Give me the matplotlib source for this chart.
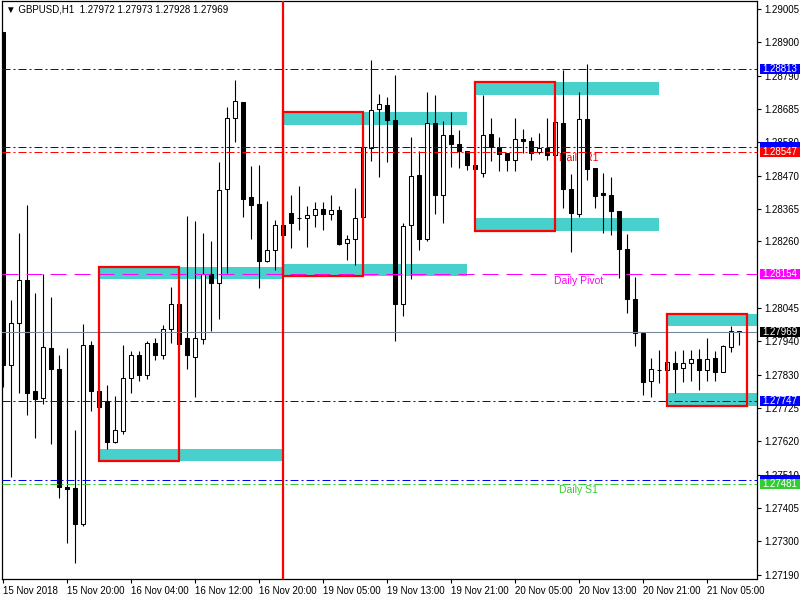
import matplotlib
matplotlib.use("Agg")
import matplotlib.pyplot as plt
from matplotlib.patches import Rectangle
from matplotlib.transforms import blended_transform_factory

plt.rcParams["font.family"] = ["Liberation Sans", "DejaVu Sans"]

# GBPUSD H1 candles (bar index 0..92)
opens = [1.28930, 1.27862, 1.27998, 1.28137, 1.27781, 1.27758, 1.27919, 1.27850, 1.27473, 1.27469,
         1.27355, 1.27926, 1.27779, 1.27747, 1.27617, 1.27652, 1.27823, 1.27894, 1.27832, 1.27935,
         1.27897, 1.27980, 1.28060, 1.27949, 1.27889, 1.27947, 1.28154, 1.28128, 1.28427, 1.28657,
         1.28706, 1.28403, 1.28379, 1.28196, 1.28231, 1.28314, 1.28350, 1.28335, 1.28335, 1.28344,
         1.28365, 1.28347, 1.28361, 1.28255, 1.28267, 1.28338, 1.28558, 1.28685, 1.28697, 1.28649,
         1.28060, 1.28314, 1.28474, 1.28267, 1.28640, 1.28409, 1.28601, 1.28572, 1.28551, 1.28505,
         1.28480, 1.28604, 1.28563, 1.28545, 1.28521, 1.28588, 1.28582, 1.28546, 1.28560, 1.28537,
         1.28640, 1.28429, 1.28347, 1.28653, 1.28495, 1.28415, 1.28410, 1.28357, 1.28236, 1.28074,
         1.27967, 1.27812, 1.27848, 1.27847, 1.27869, 1.27853, 1.27869, 1.27882, 1.27847, 1.27885,
         1.27842, 1.27922, 1.27972]
highs = [1.28930, 1.28073, 1.28286, 1.28377, 1.28093, 1.28155, 1.28083, 1.27894, 1.27917, 1.27655,
         1.27996, 1.27939, 1.27779, 1.27799, 1.27763, 1.27929, 1.27909, 1.27909, 1.27939, 1.27949,
         1.27992, 1.28115, 1.28060, 1.28341, 1.28326, 1.28286, 1.28262, 1.28513, 1.28691, 1.28776,
         1.28706, 1.28502, 1.28505, 1.28389, 1.28327, 1.28314, 1.28410, 1.28438, 1.28374, 1.28385,
         1.28385, 1.28410, 1.28374, 1.28280, 1.28432, 1.28565, 1.28842, 1.28734, 1.28724, 1.28794,
         1.28318, 1.28596, 1.28549, 1.28740, 1.28730, 1.28647, 1.28675, 1.28616, 1.28551, 1.28505,
         1.28730, 1.28656, 1.28596, 1.28545, 1.28655, 1.28620, 1.28596, 1.28608, 1.28655, 1.28655,
         1.28811, 1.28477, 1.28738, 1.28829, 1.28495, 1.28480, 1.28466, 1.28357, 1.28284, 1.28147,
         1.27967, 1.27885, 1.27912, 1.27875, 1.27908, 1.27912, 1.27912, 1.27915, 1.27949, 1.27908,
         1.27928, 1.27989, 1.27973]
lows = [1.27793, 1.27504, 1.27773, 1.27702, 1.27629, 1.27737, 1.27610, 1.27438, 1.27293, 1.27228,
        1.27347, 1.27716, 1.27729, 1.27595, 1.27613, 1.27643, 1.27773, 1.27811, 1.27817, 1.27880,
        1.27883, 1.27933, 1.27930, 1.27852, 1.27761, 1.27930, 1.27971, 1.28010, 1.28160, 1.28580,
        1.28339, 1.28268, 1.28110, 1.28193, 1.28167, 1.28282, 1.28238, 1.28298, 1.28241, 1.28306,
        1.28298, 1.28329, 1.28247, 1.28199, 1.28184, 1.28337, 1.28517, 1.28468, 1.28513, 1.27941,
        1.28019, 1.28138, 1.28231, 1.28262, 1.28347, 1.28318, 1.28498, 1.28495, 1.28489, 1.28492,
        1.28466, 1.28519, 1.28487, 1.28487, 1.28487, 1.28545, 1.28521, 1.28540, 1.28522, 1.28537,
        1.28367, 1.28225, 1.28338, 1.28456, 1.28367, 1.28288, 1.28282, 1.28142, 1.28031, 1.27925,
        1.27767, 1.27760, 1.27805, 1.27845, 1.27773, 1.27810, 1.27813, 1.27783, 1.27813, 1.27813,
        1.27842, 1.27906, 1.27928]
closes = [1.27864, 1.27998, 1.28137, 1.27773, 1.27755, 1.27921, 1.27852, 1.27473, 1.27465, 1.27353,
          1.27928, 1.27779, 1.27729, 1.27617, 1.27655, 1.27823, 1.27894, 1.27832, 1.27935, 1.27894,
          1.27980, 1.28060, 1.27930, 1.27894, 1.27950, 1.28154, 1.28128, 1.28424, 1.28657, 1.28711,
          1.28395, 1.28377, 1.28196, 1.28232, 1.28314, 1.28282, 1.28318, 1.28334, 1.28345, 1.28364,
          1.28347, 1.28361, 1.28253, 1.28268, 1.28335, 1.28563, 1.28681, 1.28700, 1.28649, 1.28060,
          1.28309, 1.28469, 1.28267, 1.28640, 1.28409, 1.28601, 1.28572, 1.28551, 1.28504, 1.28492,
          1.28601, 1.28562, 1.28539, 1.28521, 1.28588, 1.28581, 1.28545, 1.28558, 1.28537, 1.28643,
          1.28427, 1.28350, 1.28653, 1.28493, 1.28404, 1.28409, 1.28356, 1.28235, 1.28074, 1.27965,
          1.27810, 1.27850, 1.27846, 1.27872, 1.27852, 1.27869, 1.27882, 1.27848, 1.27884, 1.27842,
          1.27925, 1.27973, 1.27969]

# supply / demand zones (bar index from-to, price top-bottom)
zone_from = [12, 12, 35, 35, 59, 59, 83, 83]
zone_to = [35, 35, 58, 58, 82, 82, 95, 95]
zone_top = [1.28178, 1.27594, 1.28675, 1.28186, 1.28771, 1.28335, 1.28027, 1.27774]
zone_bot = [1.28139, 1.27554, 1.28633, 1.28148, 1.28729, 1.28293, 1.27989, 1.27733]

# red range boxes
box_from = [12, 35, 59, 83]
box_to = [22, 45, 69, 93]
box_top = [1.28178, 1.28675, 1.28771, 1.28027]
box_bot = [1.27554, 1.28148, 1.28293, 1.27733]

session_bar = 35

# horizontal levels (tags of two blue lines are hidden under the next tag)
level_prices = [1.28813, 1.28564, 1.28547, 1.28154, 1.27969, 1.27747, 1.27495, 1.27481]
level_colors = ["#0000ff", "#0000ff", "#ff0000", "#ff00ff", "#778899", "#0000ff", "#0000ff", "#32cd32"]
level_styles = ["dashdot", "dashdot", "dashdot", "dash", "solid", "dashdot", "dashdot", "dashdot"]
level_tag_text = [True, False, True, True, True, True, False, True]

pivot_names = ["Daily R1", "Daily Pivot", "Daily S1"]
pivot_x = [69.5, 68.85, 69.5]
pivot_y = [1.28527, 1.28133, 1.27463]
pivot_colors = ["#ff0000", "#ff00ff", "#32cd32"]

ytick_vals = [1.29005, 1.28900, 1.28790, 1.28685, 1.28580, 1.28470, 1.28365, 1.28260,
              1.28045, 1.27940, 1.27830, 1.27725, 1.27620, 1.27510, 1.27405, 1.27300, 1.27190]
xtick_bars = [0, 8, 16, 24, 32, 40, 48, 56, 64, 72, 80, 88]
xtick_labels = ["15 Nov 2018", "15 Nov 20:00", "16 Nov 04:00", "16 Nov 12:00", "16 Nov 20:00",
                "19 Nov 05:00", "19 Nov 13:00", "19 Nov 21:00", "20 Nov 05:00", "20 Nov 13:00",
                "20 Nov 21:00", "21 Nov 05:00"]

title = "\u25bc GBPUSD,H1  1.27972 1.27973 1.27928 1.27969"


def main():
    fig = plt.figure(figsize=(8, 6), dpi=100)
    ax = fig.add_axes([2 / 800, 21 / 600, 755 / 800, 578 / 600])

    for x0, x1, t, b in zip(zone_from, zone_to, zone_top, zone_bot):
        ax.add_patch(Rectangle((x0, b), x1 - x0, t - b, facecolor="#48d1cc",
                               edgecolor="none", zorder=1))

    idx = list(range(len(opens)))
    ax.vlines(idx, lows, highs, color="black", lw=0.8, zorder=2)
    bottoms = [min(o, c) for o, c in zip(opens, closes)]
    heights = [abs(c - o) for o, c in zip(opens, closes)]
    fills = ["white" if c > o else "black" for o, c in zip(opens, closes)]
    ax.bar(idx, heights, bottom=bottoms, width=0.5, color=fills,
           edgecolor="black", linewidth=0.75, zorder=3)

    dash_map = {"dashdot": (8, 3, 2, 3), "dash": (16, 8)}
    for p, c, s in zip(level_prices, level_colors, level_styles):
        if s == "solid":
            ax.axhline(p, color=c, lw=0.8, zorder=4)
        else:
            ax.axhline(p, color=c, lw=0.72, dashes=dash_map[s], zorder=4)

    for name, x, y, c in zip(pivot_names, pivot_x, pivot_y, pivot_colors):
        ax.text(x, y, name, color=c, fontsize=7.5, ha="left", va="center", zorder=2.5)

    for x0, x1, t, b in zip(box_from, box_to, box_top, box_bot):
        ax.add_patch(Rectangle((x0, b), x1 - x0, t - b, fill=False,
                               edgecolor="#ff0000", lw=1.6, zorder=5))
    ax.axvline(session_bar, color="#ff0000", lw=1.6, zorder=5)

    ax.set_xlim(-0.16, 94.2)
    ax.set_ylim(1.27177, 1.29031)

    ax.yaxis.tick_right()
    ax.set_yticks(ytick_vals)
    ax.set_yticklabels([f"{v:.5f}" for v in ytick_vals])
    ax.tick_params(axis="y", direction="out", length=3, pad=2, labelsize=7, width=0.8)
    ax.set_xticks(xtick_bars)
    ax.set_xticklabels(xtick_labels, ha="left")
    ax.tick_params(axis="x", direction="out", length=3, pad=2, labelsize=7, width=0.8)
    for sp in ax.spines.values():
        sp.set_linewidth(0.9)

    # price tags on the right scale
    trans = blended_transform_factory(ax.transAxes, ax.transData)
    tag_h = 0.00032
    for p, c, show in zip(level_prices, level_colors, level_tag_text):
        tag = "black" if c == "#778899" else c
        ax.add_patch(Rectangle((1.004, p - tag_h / 2), 0.0535, tag_h, transform=trans,
                               facecolor=tag, edgecolor="none", clip_on=False, zorder=10))
        if show:
            ax.text(1.0068, p, f"{p:.5f}", transform=trans, color="white", fontsize=7,
                    ha="left", va="center", clip_on=False, zorder=11)

    fig.text(6 / 800, 1 - 10 / 600, title, fontsize=7, ha="left", va="center")

    fig.savefig("out.png", dpi=100)
    plt.close(fig)


if __name__ == "__main__":
    main()
